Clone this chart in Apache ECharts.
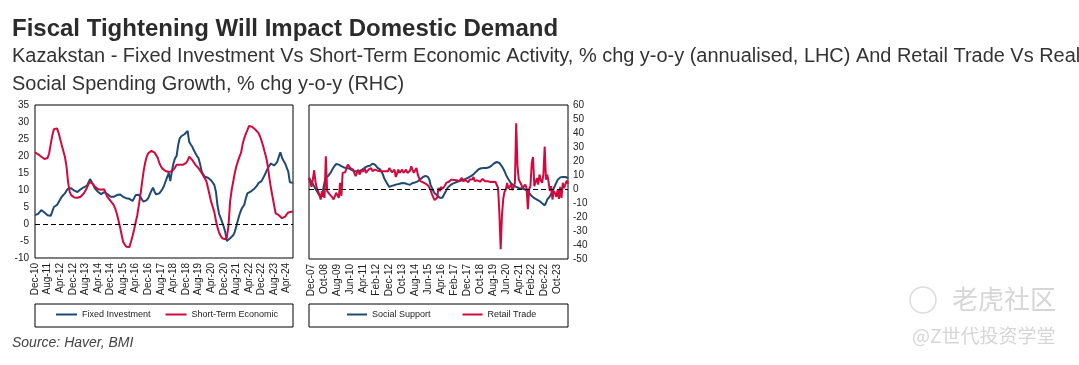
<!DOCTYPE html>
<html>
<head>
<meta charset="utf-8">
<script src="https://cdn.jsdelivr.net/npm/echarts@6/dist/echarts.min.js"></script>
<style>
html,body{margin:0;padding:0;background:#fff;}
#chart{width:1079px;height:365px;}
</style>
</head>
<body>
<div id="chart"></div>
<script>
// ---------- DATA ----------
const MONTH_NAMES = ['Jan','Feb','Mar','Apr','May','Jun','Jul','Aug','Sep','Oct','Nov','Dec'];
function monthSeq(year, month0, n) {
  const out = [];
  for (let i = 0; i < n; i++) {
    const m = (month0 + i) % 12;
    const y = year + Math.floor((month0 + i) / 12);
    out.push(MONTH_NAMES[m] + '-' + String(y % 100).padStart(2, '0'));
  }
  return out;
}
// Left panel: Dec-10 .. Aug-24 (monthly)
const leftCategories = monthSeq(2010, 11, 165);
// Right panel: Oct-07 .. Jun-24 (monthly)
const rightCategories = monthSeq(2007, 9, 201);

const leftLabelStart = 0, leftLabelStep = 8;     // Dec-10, Aug-11, ...
const rightLabelStart = 2, rightLabelStep = 10;  // Dec-07, Oct-08, ...

const fixedInvestment = [
2.6,2.4,3.0,3.5,4.1,4.5,3.4,3.0,2.6,2.5,
2.4,2.6,5.0,5.2,5.6,6.0,7.2,8.0,8.5,9.0,
9.8,10.4,10.7,10.5,10.0,9.8,9.5,9.4,9.5,10.2,
10.5,10.8,11.0,11.3,11.7,13.2,12.4,11.5,10.5,10.0,
9.5,9.2,8.8,9.0,9.4,9.5,8.8,8.3,8.0,7.8,
8.0,8.3,8.5,8.6,8.7,8.3,8.0,7.8,7.6,7.4,
7.4,7.0,6.8,7.6,8.5,9.0,8.6,8.0,7.2,6.6,
6.8,7.0,7.6,8.7,9.8,10.7,9.5,8.7,8.8,9.0,
9.6,10.3,11.2,12.5,13.8,15.0,12.6,15.5,17.8,19.3,
20.0,23.2,25.2,25.8,26.2,26.4,26.0,27.4,24.2,23.4,
22.7,21.7,20.8,20.0,19.3,17.5,15.4,14.5,13.9,13.5,
13.6,13.4,12.8,12.3,11.5,9.5,5.5,3.0,1.8,0.5,
-0.8,-2.5,-5.0,-4.6,-4.2,-3.7,-3.3,-2.3,-0.6,1.2,
2.8,4.1,5.0,5.6,7.5,9.0,9.3,9.5,9.9,10.2,
10.5,11.2,12.0,12.3,12.6,13.5,14.4,15.4,16.4,17.2,
17.8,17.5,17.2,17.2,18.3,19.8,21.1,19.5,18.6,17.8,
16.6,15.4,12.3,12.0,12.1
];

const shortTermEconomic = [
21.1,20.6,20.5,20.1,19.8,19.5,19.1,18.8,19.4,20.8,
23.5,26.0,27.9,28.2,28.1,26.8,25.0,23.2,21.5,19.8,
17.0,12.5,9.5,8.5,8.0,7.8,7.7,7.7,7.8,8.0,
8.5,9.0,9.5,10.6,11.7,12.4,12.3,11.7,11.0,10.5,
10.3,10.3,10.1,10.0,10.2,9.0,8.0,7.4,6.8,6.2,
5.6,4.5,3.1,1.2,-0.8,-3.0,-5.2,-6.0,-6.7,-7.0,
-6.8,-5.2,-3.5,-1.6,0.5,2.6,5.5,8.5,12.0,15.4,
18.0,19.8,20.8,21.3,21.5,21.5,21.0,20.6,19.5,18.0,
17.0,16.3,15.9,15.6,15.4,15.3,15.2,15.5,15.9,16.6,
17.4,17.5,17.4,17.5,17.4,17.6,18.0,18.6,19.8,19.3,
18.8,18.1,17.4,16.9,16.4,15.7,15.0,14.2,13.4,12.5,
10.5,8.5,6.5,5.0,3.5,1.0,-1.0,-2.5,-3.5,-4.2,
-4.7,-4.5,-3.8,-0.5,6.5,10.0,12.5,15.0,17.0,18.5,
19.8,21.0,23.5,25.2,26.5,27.6,28.8,29.3,28.6,28.3,
27.8,27.8,26.8,25.8,24.5,23.0,21.2,19.5,17.0,13.5,
10.5,8.0,5.5,3.1,2.8,2.6,2.1,1.7,1.8,2.2,
2.8,3.4,3.6,3.6,3.7
];

const socialSupport = [
8,6.7,5,3.5,2,0,-1.5,-3,-4.5,-5.3,
-5.5,0,5,8,8.6,9.5,10.3,12,14,15.5,
16.8,17.9,17.8,17.4,17,16.3,15.6,15.4,15.1,15,
14.8,14.6,14.2,13.6,13.1,12.9,12.7,12.7,12.7,12.7,
13.2,13.8,14.3,15.2,16.2,16.2,16.2,16.6,17.3,18,
18.1,17.4,16.2,15,14.5,14,13.4,10.5,7.9,6,
4.4,3,1.5,1.8,2.2,2.5,2.8,3.1,3.3,3.5,
3.7,4,4.3,4.4,4.1,3.9,3.5,3.2,3,3.6,
4.3,4.6,4.7,4.8,5.5,6.2,7,7.8,8.6,9,
9.4,9.6,8.5,6.5,2.5,0.8,-1.5,-3,-4,-4.6,
-5.3,-6.3,-6.4,-6.3,-5,-2.7,-1,0.8,1.8,2.6,
3.2,3.8,4.4,4.6,4.9,5.3,5.6,5.9,6.2,6.4,
6.7,7.2,7.7,8.2,8.6,9.2,9.8,10.4,11,12.4,
13.5,14.1,14.5,14.8,15,15,15,15,15,15.5,
16.2,16.7,17.6,18.4,18.9,19.3,19.3,18.6,17.5,16.2,
14.5,12.7,10.5,8.5,7,5.5,4,3.2,2.5,2,
1.5,1,0.7,0.5,0.4,0.2,0,-0.4,-0.9,-1.5,
-3,-4.3,-5,-5.8,-6.6,-7.1,-7.6,-8.1,-8.6,-9.3,
-10.2,-11,-11.7,-10,-7.5,-6.5,-5.3,-4,-1.5,0.5,
2.5,4.5,6.5,7.5,8.3,8.6,8.6,8.6,8.6,8.2,
7.9
];

const retailTrade = [
8,6.7,1.5,7,13.4,5,0.8,-1.5,-4,-7.5,
-1.5,-4,-6.3,23.3,-1.5,-2.5,-3.9,-5,-6,-7.5,
-8.6,-2.7,-4,-6.3,4.4,-5,11.5,10.3,12,15,
17.4,16,15,14.5,13.8,11.5,9.1,11.5,13.8,10.3,
12.5,13.8,12.7,15,11.5,12.5,13.8,13.1,15,12.7,
13.2,13.8,13.4,13.1,12.9,12.7,12.7,12.7,12.7,12.7,
12.5,12.7,15,13.5,11.9,12.8,13.8,8.6,11,13.8,
11.5,12.5,13.8,11.5,10.3,13.8,11.5,10.3,13,16.2,
13.5,11.5,13.5,15,10.3,8,5.6,5.2,4.8,4.4,
3.8,3.2,2.5,2,-1,-3.9,-6,-7.9,-6.8,-6.3,
0.8,-1.5,1.5,0,-0.4,2.5,4.4,5.6,5.2,4.8,
6.7,5.6,6.5,7.9,6.3,7.2,5.6,6.5,7.9,5.6,
6.7,6.2,5.6,4.8,6.7,5.6,6.8,8.6,5.6,6.7,
6.2,5.6,5.2,4.8,7.2,6.2,5.6,5.6,5.6,5.2,
5.0,4.8,5.2,5.6,5.0,3.9,0.8,-16.9,-43,-19,
-7,-2,-0.4,4.4,0.1,1.5,3.2,-0.8,1.5,4.4,
47,16.2,6.7,5.6,3,0.8,2,3.2,0.8,-14.5,
0,2,18.6,22.9,2,5,7.9,3.2,10.3,6,
4.4,10.3,30.4,6.7,10.3,5,-1.5,2,-7.5,-1.5,
-3,-5.6,-0.4,-7,1.5,-6.3,4.4,0.5,3.2,6,
3.9
];

// ---------- STYLE ----------
const BLUE = '#1e4a73';
const RED = '#d2093c';
const FONT = 'Liberation Sans, Arial, sans-serif';
const zeroLine = {
  silent: true, symbol: 'none', animation: false,
  label: { show: false },
  lineStyle: { color: '#000', width: 1, type: [5, 3] },
  data: [{ yAxis: 0 }]
};
function lineSeries(name, data, color, axisIdx, withZero) {
  const s = {
    name, type: 'line', data,
    xAxisIndex: axisIdx, yAxisIndex: axisIdx,
    symbol: 'none', showSymbol: false,
    lineStyle: { color, width: 2 }, itemStyle: { color },
    animation: false
  };
  if (withZero) s.markLine = zeroLine;
  return s;
}
const axisLabelStyle = { fontSize: 10, color: '#222', fontFamily: FONT };
const legendText = { fontSize: 9, color: '#222', fontFamily: FONT };

const chart = echarts.init(document.getElementById('chart'), null, { renderer: 'canvas' });
chart.setOption({
  backgroundColor: '#fff',
  animation: false,
  title: [
    { text: 'Fiscal Tightening Will Impact Domestic Demand', left: 12, top: 17, padding: 0,
      textStyle: { fontFamily: FONT, fontWeight: 'bold', fontSize: 24, color: '#2b2b2b' } },
    { text: 'Kazakstan - Fixed Investment Vs Short-Term Economic Activity, % chg y-o-y (annualised, LHC) And Retail Trade Vs Real\nSocial Spending Growth, % chg y-o-y (RHC)',
      left: 12, top: 43, padding: 0,
      textStyle: { fontFamily: FONT, fontWeight: 'normal', fontSize: 19.95, lineHeight: 28, color: '#333' } },
    { text: 'Source: Haver, BMI', left: 12, top: 336, padding: 0,
      textStyle: { fontFamily: FONT, fontWeight: 'normal', fontStyle: 'italic', fontSize: 14, color: '#444' } }
  ],
  grid: [
    { left: 35, top: 105, width: 258, height: 153, show: true, borderColor: '#000', borderWidth: 1, backgroundColor: 'transparent' },
    { left: 309, top: 105, width: 259, height: 154, show: true, borderColor: '#000', borderWidth: 1, backgroundColor: 'transparent' }
  ],
  xAxis: [
    { type: 'category', gridIndex: 0, data: leftCategories, boundaryGap: false,
      axisLine: { show: false }, axisTick: { show: false }, splitLine: { show: false },
      axisLabel: Object.assign({ rotate: 90, margin: 5,
        interval: (i) => (i - leftLabelStart) % leftLabelStep === 0 }, axisLabelStyle) },
    { type: 'category', gridIndex: 1, data: rightCategories, boundaryGap: false,
      axisLine: { show: false }, axisTick: { show: false }, splitLine: { show: false },
      axisLabel: Object.assign({ rotate: 90, margin: 5,
        interval: (i) => (i - rightLabelStart) % rightLabelStep === 0 }, axisLabelStyle) }
  ],
  yAxis: [
    { type: 'value', gridIndex: 0, min: -10, max: 35, interval: 5,
      axisLine: { show: false }, axisTick: { show: false }, splitLine: { show: false },
      axisLabel: Object.assign({ margin: 6 }, axisLabelStyle) },
    { type: 'value', gridIndex: 1, position: 'right', min: -50, max: 60, interval: 10,
      axisLine: { show: false }, axisTick: { show: false }, splitLine: { show: false },
      axisLabel: Object.assign({ margin: 5 }, axisLabelStyle) }
  ],
  legend: [
    { data: ['Fixed Investment', 'Short-Term Economic'], left: 56, top: 310, padding: 0,
      icon: 'rect', itemWidth: 21, itemHeight: 2, itemGap: 15,
      textStyle: legendText },
    { data: ['Social Support', 'Retail Trade'], left: 347, top: 310, padding: 0,
      icon: 'rect', itemWidth: 20, itemHeight: 2, itemGap: 32,
      textStyle: legendText }
  ],
  graphic: [
    { type: 'rect', shape: { x: 35, y: 304, width: 258, height: 23 }, style: { fill: 'none', stroke: '#000', lineWidth: 1 }, silent: true },
    { type: 'rect', shape: { x: 309, y: 304, width: 259, height: 23 }, style: { fill: 'none', stroke: '#000', lineWidth: 1 }, silent: true },
    { type: 'circle', shape: { cx: 923, cy: 300, r: 13 }, style: { fill: 'none', stroke: '#dcdcdc', lineWidth: 1.5 }, silent: true },
    { type: 'text', left: 952, top: 286, silent: true,
      style: { text: '老虎社区', fontSize: 26, fill: '#d6d6d6', fontFamily: 'Noto Sans CJK SC' } },
    { type: 'text', left: 912, top: 326, silent: true,
      style: { text: '@Z世代投资学堂', fontSize: 19, fill: '#d6d6d6', fontFamily: 'Noto Sans CJK SC' } }
  ],
  series: [
    lineSeries('Fixed Investment', fixedInvestment, BLUE, 0, true),
    lineSeries('Short-Term Economic', shortTermEconomic, RED, 0, false),
    lineSeries('Social Support', socialSupport, BLUE, 1, true),
    lineSeries('Retail Trade', retailTrade, RED, 1, false)
  ]
});
</script>
</body>
</html>
